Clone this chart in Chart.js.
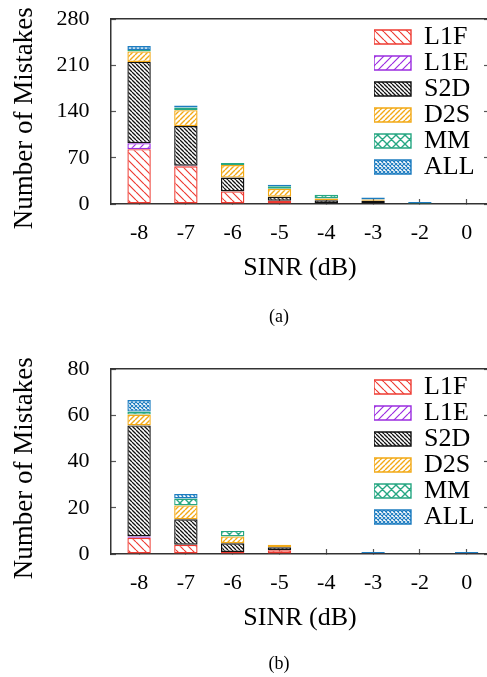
<!DOCTYPE html>
<html><head><meta charset="utf-8">
<script src="https://cdn.jsdelivr.net/npm/chart.js@4/dist/chart.umd.min.js"></script>
<style>
html,body{margin:0;padding:0;background:#fff;overflow:hidden;width:487px;height:677px;}
.wrap{position:absolute;left:0;width:489px;height:350px;}
.cap{position:absolute;left:229px;width:100px;text-align:center;font-family:'Liberation Serif','Times New Roman',serif;font-size:18px;line-height:20px;color:#000;}
</style></head><body>
<div class="wrap" style="top:0"><canvas id="ca" width="489" height="350"></canvas></div>
<div class="wrap" style="top:350px"><canvas id="cb" width="489" height="350"></canvas></div>
<div class="cap" style="top:306px">(a)</div>
<div class="cap" style="top:653px">(b)</div>
<script>
// ---- data ----
const categories = ['-8', '-7', '-6', '-5', '-4', '-3', '-2', '0'];
const seriesNames = ['L1F', 'L1E', 'S2D', 'D2S', 'MM', 'ALL'];

// chart (a)
const l1fA = [83, 57, 19, 5, 0, 0, 0, 0];
const l1eA = [9, 1, 0, 0, 0, 0, 0, 0];
const s2dA = [123, 60, 21, 6, 5.5, 5, 0, 0];
const d2sA = [16, 24, 19, 12, 3, 2, 0, 0];
const mmA  = [2, 4, 3, 4, 5.5, 0, 1.5, 0];
const allA = [6, 3, 0, 2, 0, 3, 1.5, 0];
const yTicksA = [0, 70, 140, 210, 280];

// chart (b)
const l1fB = [7, 4, 0.9, 1.6, 0, 0.3, 0, 0.3];
const l1eB = [0.6, 0, 0, 0, 0, 0, 0, 0];
const s2dB = [48, 11, 3.7, 1.3, 0, 0, 0, 0];
const d2sB = [4.7, 6, 3, 1.1, 0, 0, 0, 0];
const mmB  = [1.3, 3, 2.4, 0, 0, 0, 0, 0];
const allB = [5, 2, 0, 0, 0, 0.6, 0, 0.6];
const yTicksB = [0, 20, 40, 60, 80];

// ---- styles ----
const FAMILY = "'Liberation Serif', 'Times New Roman', serif";
Chart.defaults.font.family = FAMILY;
const styles = {
  L1F: {color: '#ee3b32', period: 8, kind: 'back', lw: 1.2},
  L1E: {color: '#9b2de0', period: 8, kind: 'fwd', lw: 1.2},
  S2D: {color: '#111111', period: 4, kind: 'back', lw: 1.3},
  D2S: {color: '#f2a916', period: 5, kind: 'fwd', lw: 1.4},
  MM:  {color: '#27a783', period: 9, kind: 'cross', lw: 1.4},
  ALL: {color: '#1c7cc0', period: 4, kind: 'cross', lw: 1.1}
};
function hatch(st) {
  const p = st.period;
  const c = document.createElement('canvas');
  c.width = p; c.height = p;
  const g = c.getContext('2d');
  g.fillStyle = '#fff'; g.fillRect(0, 0, p, p);
  g.strokeStyle = st.color; g.lineWidth = st.lw;
  g.beginPath();
  for (const x0 of [-p, 0, p]) {
    if (st.kind === 'back' || st.kind === 'cross') { g.moveTo(x0, 0); g.lineTo(x0 + p, p); }
    if (st.kind === 'fwd' || st.kind === 'cross') { g.moveTo(x0, p); g.lineTo(x0 + p, 0); }
  }
  g.stroke();
  return g.createPattern(c, 'repeat');
}
const patterns = {};
seriesNames.forEach(n => { patterns[n] = hatch(styles[n]); });

const X_MIN = -0.6, X_MAX = 7.477;

const legendPlace = {
  id: 'legendPlace',
  beforeDraw(chart) {
    const lg = chart.legend;
    if (!lg) return;
    const h = lg.height;
    lg.left = 374; lg.top = 24;
    lg.right = chart.width; lg.bottom = 24 + h + 20;
  }
};
const noPad = s => { s.paddingTop = 0; s.paddingBottom = 0; s.paddingLeft = 0; s.paddingRight = 0; };

function makeChart(id, seriesData, yMax, yTicks) {
  const datasets = seriesNames.map((name, k) => ({
    label: name,
    data: seriesData[k].map((v, i) => ({x: i, y: v})),
    backgroundColor: patterns[name],
    borderColor: styles[name].color,
    borderWidth: 1.4,
    borderSkipped: false,
    categoryPercentage: 1,
    barPercentage: 0.5
  }));
  const setYTicks = s => { s.ticks = yTicks.map(v => ({value: v})); };
  return new Chart(document.getElementById(id), {
    type: 'bar',
    data: {datasets},
    options: {
      responsive: false,
      animation: false,
      devicePixelRatio: 1,
      layout: {padding: {left: 0, top: 19, right: 0, bottom: 66}},
      scales: {
        x: {
          type: 'linear', stacked: true, min: X_MIN, max: X_MAX, offset: false,
          afterBuildTicks: s => { s.ticks = categories.map((_, i) => ({value: i})); },
          afterFit: s => { s.height = 80; noPad(s); },
          ticks: {callback: v => categories[v], font: {size: 22}, color: '#000', padding: 21, maxRotation: 0, autoSkip: false},
          grid: {offset: false, drawOnChartArea: false, tickLength: -5, tickColor: '#555', tickWidth: 1.2},
          border: {color: '#333', width: 1.5},
          title: {display: true, text: 'SINR (dB)', font: {size: 26}, color: '#000', padding: {top: 0, bottom: 0}}
        },
        x2: {
          type: 'linear', position: 'top', min: X_MIN, max: X_MAX, offset: false,
          afterFit: s => { s.height = 0; noPad(s); },
          ticks: {display: false},
          grid: {display: false, offset: false},
          border: {color: '#333', width: 1.5}
        },
        y: {
          type: 'linear', stacked: true, min: 0, max: yMax,
          afterBuildTicks: setYTicks,
          afterFit: s => { s.width = 111; noPad(s); },
          ticks: {font: {size: 22}, color: '#000', padding: 26.5},
          grid: {drawOnChartArea: false, tickLength: -5, tickColor: '#555', tickWidth: 1.2},
          border: {color: '#333', width: 1.5},
          title: {display: true, text: 'Number of Mistakes\u00A0\u00A0', font: {size: 27}, color: '#000', padding: {top: 8.3, bottom: 0}}
        },
        y2: {
          type: 'linear', position: 'right', min: 0, max: yMax,
          afterBuildTicks: setYTicks,
          afterFit: s => { s.width = 0; noPad(s); },
          ticks: {display: false},
          grid: {drawOnChartArea: false, tickLength: -5, tickColor: '#555', tickWidth: 1.2},
          border: {color: '#333', width: 1.5}
        }
      },
      plugins: {
        legend: {
          position: 'chartArea', align: 'start',
          labels: {boxWidth: 37, boxHeight: 14, padding: 0, font: {size: 26}, color: '#000'}
        },
        title: {display: false},
        tooltip: {enabled: false}
      }
    },
    plugins: [legendPlace]
  });
}

makeChart('ca', [l1fA, l1eA, s2dA, d2sA, mmA, allA], 280, yTicksA);
makeChart('cb', [l1fB, l1eB, s2dB, d2sB, mmB, allB], 80, yTicksB);
</script>
</body></html>
